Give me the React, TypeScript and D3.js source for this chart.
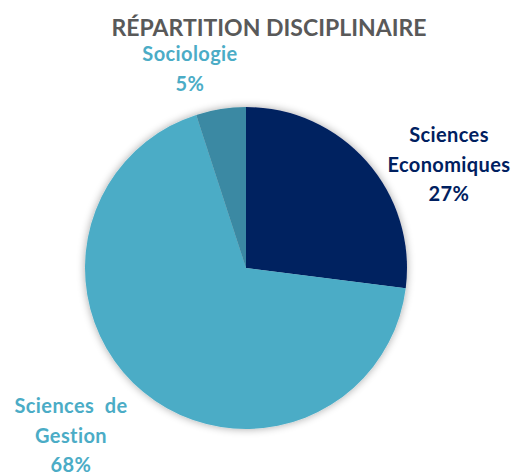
import React from "react";
import * as d3 from "d3";

const categories = ["Sciences Economiques", "Sciences de Gestion", "Sociologie"];
const values = [27, 68, 5];
const labelLines = [["Sciences", "Economiques", "27%"], ["Sciences  de", "Gestion", "68%"], ["Sociologie", "5%"]];
const sliceColors = ["#002060", "#4BACC6", "#3A89A3"];
const labelColors = ["#002060", "#4BACC6", "#4BACC6"];
const labelPos = [[449, 142], [71, 413], [190, 61]];

export default function App() {
  const W = 519, H = 475;
  const cx = 246, cy = 268, r = 161;
  const pie = d3.pie<number>().sort(null).value((d) => d);
  const arcs = pie(values);
  const arc = d3.arc<d3.PieArcDatum<number>>().innerRadius(0).outerRadius(r);
  const font = "Lato, 'Open Sans', sans-serif";
  return (
    <svg width={W} height={H} style={{ position: "absolute", left: 0, top: 0, background: "#fff" }}>
      <defs>
        <filter id="sh" x="-20%" y="-20%" width="140%" height="140%">
          <feGaussianBlur in="SourceAlpha" stdDeviation="4" />
          <feOffset dx="0" dy="0" result="b" />
          <feComponentTransfer><feFuncA type="linear" slope="0.35" /></feComponentTransfer>
          <feMerge><feMergeNode /><feMergeNode in="SourceGraphic" /></feMerge>
        </filter>
      </defs>
      <text x={269} y={36} textAnchor="middle" fontFamily={font} fontWeight="bold" fontSize={23} fill="#595959">RÉPARTITION DISCIPLINAIRE</text>
      <g transform={`translate(${cx},${cy})`} filter="url(#sh)">
        {arcs.map((a, i) => (
          <path key={categories[i]} d={arc(a) || ""} fill={sliceColors[i]} />
        ))}
      </g>
      {labelLines.map((lines, i) => (
        <text key={i} textAnchor="middle" fontFamily={font} fontWeight="bold" fontSize={20} letterSpacing={0.4} fill={labelColors[i]}>
          {lines.map((l, j) => (
            <tspan key={j} x={labelPos[i][0]} y={labelPos[i][1] + j * 29.5} style={{ whiteSpace: "pre" }}>{l}</tspan>
          ))}
        </text>
      ))}
    </svg>
  );
}
